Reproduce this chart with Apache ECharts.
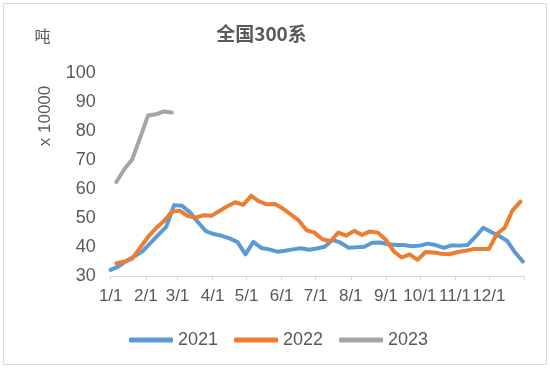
<!DOCTYPE html>
<html>
<head>
<meta charset="utf-8">
<script src="https://cdn.jsdelivr.net/npm/echarts@6/dist/echarts.min.js"></script>
<style>html,body{margin:0;padding:0;background:#fff}#c{width:550px;height:368px}</style>
</head>
<body>
<div id="c"></div>
<script>
// Month start offsets (day of year) and tick labels
const monthStarts = [0, 31, 59, 90, 120, 151, 181, 212, 243, 273, 304, 334];
const tickLabels = ['1/1','2/1','3/1','4/1','5/1','6/1','7/1','8/1','9/1','10/1','11/1','12/1'];
const yearEnd = 365;

// Weekly series (first point day offset, then one value per week), unit: x 10000 吨
const start2021 = 0;
const values2021 = [32.1,33.3,35.2,36.8,38.5,41.4,44.2,47.0,54.5,54.3,52.0,48.7,45.5,44.5,43.9,43.0,41.7,37.5,41.8,39.7,39.2,38.4,38.7,39.2,39.6,39.1,39.5,40.1,42.5,41.5,39.8,39.9,40.1,41.5,41.6,41.0,40.7,40.7,40.3,40.5,41.2,40.7,39.7,40.6,40.5,40.7,43.5,46.7,45.2,43.8,42.2,38.2,35.0];
const start2022 = 5;
const values2022 = [34.4,34.9,36.0,39.8,43.5,46.5,49.0,52.2,52.6,50.7,50.2,51.0,50.8,52.5,54.1,55.5,54.6,57.7,55.8,54.8,54.9,53.3,51.3,49.2,45.8,45.0,42.7,42.0,45.0,44.0,45.6,44.2,45.4,45.0,42.5,38.5,36.4,37.5,35.6,38.3,38.1,37.7,37.5,38.2,38.7,39.3,39.3,39.3,44.5,46.7,52.8,55.7];
const start2023 = 5;
const values2023 = [62.5,66.9,70.3,77.8,85.5,85.9,86.9,86.5];

const yTicks = [30,40,50,60,70,80,90,100];

function weekly(startDay, vals) {
  return vals.map((v, i) => [startDay + 7 * i, v]);
}

const txt = '#595959';
const font = "'Liberation Sans', 'Noto Sans CJK SC', sans-serif";
const chart = echarts.init(document.getElementById('c'), null, {renderer: 'canvas'});
chart.setOption({
  animation: false,
  backgroundColor: '#ffffff',
  textStyle: {fontFamily: font},
  grid: {left: 110.7, right: 26, top: 73.5, bottom: 92, containLabel: false},
  xAxis: {
    type: 'value', min: 0, max: yearEnd,
    axisLine: {show: true, lineStyle: {color: '#d9d9d9', width: 1}},
    axisTick: {show: true, length: 4, lineStyle: {color: '#d9d9d9'}, customValues: monthStarts.concat([yearEnd])},
    axisLabel: {
      customValues: monthStarts, color: txt, fontSize: 17, margin: 12, fontFamily: font,
      hideOverlap: false, showMinLabel: true, showMaxLabel: true,
      formatter: v => tickLabels[monthStarts.indexOf(v)]
    },
    splitLine: {show: false}
  },
  yAxis: {
    type: 'value', min: yTicks[0], max: yTicks[yTicks.length - 1], interval: 10,
    axisLine: {show: false}, axisTick: {show: false}, splitLine: {show: false},
    axisLabel: {color: txt, fontSize: 18, margin: 15, fontFamily: font}
  },
  legend: {
    data: ['2021', '2022', '2023'], left: 124, top: 326,
    icon: 'roundRect', itemWidth: 44, itemHeight: 5, itemGap: 16,
    textStyle: {color: txt, fontSize: 18, fontFamily: font}
  },
  graphic: [
    {type: 'rect', shape: {x: 3.5, y: 3.5, width: 543, height: 361}, style: {fill: 'none', stroke: '#d9d9d9', lineWidth: 1}, silent: true},
    {type: 'text', x: 261.5, y: 34, style: {text: '全国300系', fill: txt, font: "bold 19px 'Noto Sans CJK SC', sans-serif", align: 'center', verticalAlign: 'middle'}},
    {type: 'text', x: 42.5, y: 35.5, style: {text: '吨', fill: txt, font: "16px 'Noto Sans CJK SC', sans-serif", align: 'center', verticalAlign: 'middle'}},
    {type: 'text', x: 45, y: 116, rotation: Math.PI / 2, style: {text: 'x 10000', fill: txt, font: "17px 'Liberation Sans', sans-serif", align: 'center', verticalAlign: 'middle'}}
  ],
  series: [
    {name: '2021', type: 'line', data: weekly(start2021, values2021), symbol: 'none', lineStyle: {width: 4, color: '#5B9BD5', cap: 'round', join: 'round'}, itemStyle: {color: '#5B9BD5'}},
    {name: '2022', type: 'line', data: weekly(start2022, values2022), symbol: 'none', lineStyle: {width: 4, color: '#ED7D31', cap: 'round', join: 'round'}, itemStyle: {color: '#ED7D31'}},
    {name: '2023', type: 'line', data: weekly(start2023, values2023), symbol: 'none', lineStyle: {width: 4, color: '#A5A5A5', cap: 'round', join: 'round'}, itemStyle: {color: '#A5A5A5'}}
  ]
});
</script>
</body>
</html>
